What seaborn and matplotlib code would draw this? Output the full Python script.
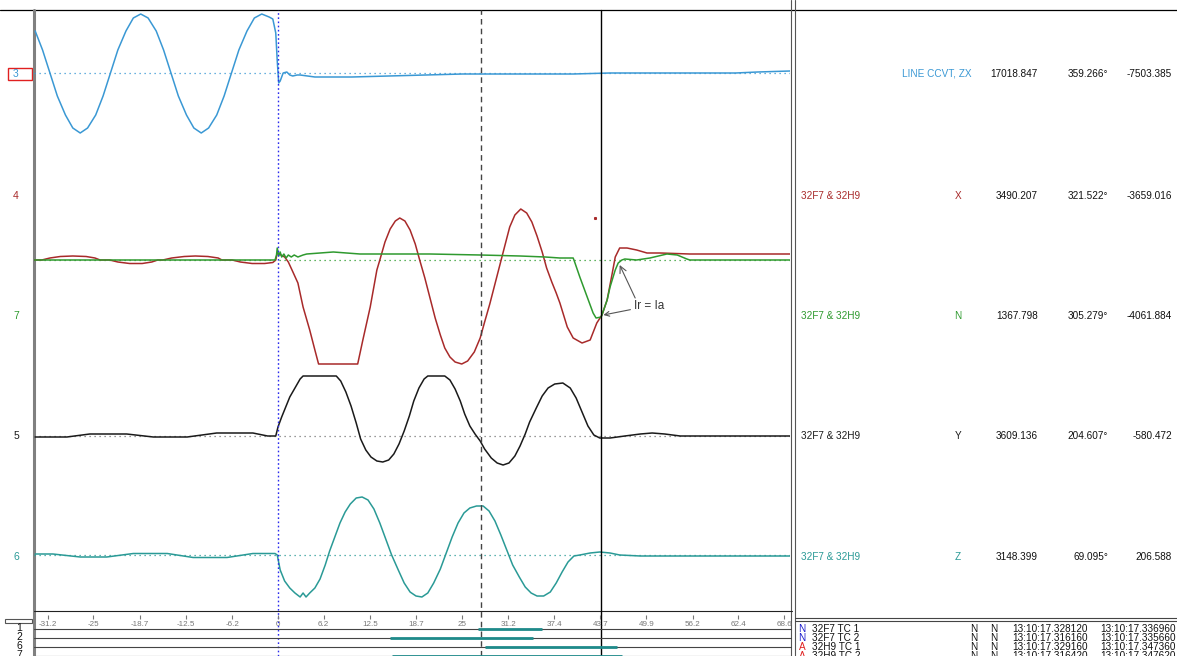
import numpy as np
import pandas as pd
import matplotlib
matplotlib.use("Agg")
import matplotlib.pyplot as plt
import seaborn as sns
from matplotlib.patches import Rectangle

sns.set_theme(style="white")
plt.rcParams['font.family'] = ['Liberation Sans', 'DejaVu Sans']

# ---------------- data (time in ms, values in display units) ----------------
ch3_t = [-32.9, -31.9, -30.9, -29.9, -28.8, -27.8, -26.8, -25.8, -24.7, -23.7, -22.7, -21.7,
         -20.6, -19.6, -18.6, -17.6, -16.5, -15.5, -14.5, -13.5, -12.4, -11.4, -10.4, -9.4,
         -8.3, -7.3, -6.3, -5.3, -4.2, -3.2, -2.2, -1.2, -0.7, -0.3, -0.1, 0.1, 0.3, 0.7, 1.2,
         1.6, 2.0, 2.6, 3.0, 5.0, 10.0, 15.0, 20.0, 25.0, 30.0, 40.0, 45.0, 55.0, 62.0, 65.0, 69.4]
ch3_v = [42, 23, 0, -23, -42, -55, -60, -55, -42, -23, 0, 23, 42, 55, 59, 55, 42, 23, 0, -23,
         -42, -55, -60, -55, -42, -23, 0, 23, 42, 55, 59, 56, 54, 40, 12, -10, -8, 0, 1, -2, -3,
         -2, -2, -4, -4, -3, -2, -1, -1, -1, 0, 0, 0, 1, 2]

ch4_t = [-33.1, -32.0, -30.9, -29.5, -27.8, -26.0, -24.8, -24.1, -22.8, -21.7, -20.1, -18.4,
         -17.1, -16.3, -15.6, -14.4, -12.7, -11.2, -9.5, -8.1, -7.6, -6.2, -5.1, -3.5, -1.8,
         -0.7, -0.3, -0.1, 0.4, 0.9, 1.4, 1.9, 2.7, 3.4, 4.3, 5.0, 5.5, 10.8, 11.5, 12.5, 13.4,
         13.8, 14.5, 15.2, 15.9, 16.5, 17.2, 17.9, 18.6, 19.2, 19.9, 20.6, 21.3, 22.0, 22.6,
         23.3, 24.0, 24.9, 25.7, 26.6, 27.4, 28.0, 28.7, 29.4, 30.1, 30.8, 31.4, 32.1, 32.9,
         33.7, 34.4, 35.1, 35.8, 36.4, 37.1, 37.7, 38.2, 39.2, 40.0, 41.2, 42.3, 43.2, 43.9,
         44.6, 45.3, 45.7, 46.3, 47.3, 48.6, 50.0, 51.8, 55.8, 69.4]
ch4_v = [0, 0, 2, 3.5, 4, 3.5, 2, 0, 0, -2, -3.5, -3.5, -2, 0, 0, 2, 3.5, 4, 3.5, 2, 0, 0, -2,
         -3.5, -3.5, -2.5, 0, 7, 5, 3, -2, -10, -23, -47, -70, -90, -104, -104, -80, -47, -10,
         0, 18, 31, 39, 42, 39, 30, 16, 0, -18, -38, -58, -75, -88, -97, -102, -104, -101, -92,
         -78, -62, -44, -24, -4, 16, 33, 45, 51, 47, 38, 24, 8, -8, -22, -33, -43, -67, -78,
         -83, -80, -63, -55, -40, -13, 3, 12, 12, 10, 7, 7, 6, 6]

ch7_t = [-33.1, -0.4, -0.2, -0.1, 0.1, 0.3, 0.5, 0.8, 1.1, 1.4, 1.8, 2.2, 2.7, 3.4, 3.9, 5.7,
         7.5, 9.3, 11.1, 13.8, 20.6, 27.4, 32.8, 36.2, 38.2, 40.0, 40.2, 40.9, 41.9, 42.7, 43.1,
         43.8, 44.6, 45.0, 45.7, 46.1, 46.6, 47.0, 48.6, 50.4, 52.7, 54.1, 55.4, 55.8, 69.4]
ch7_v = [0, 0, 5, 12, 4, 8, 3, 6, 2, 5, 3, 5, 3, 5, 6, 7, 8, 7, 6, 6, 6, 5, 4, 3, 2, 2, -2,
         -17, -37, -53, -58, -57, -40, -27, -10, -3, 0, 1, 0, 2, 6, 5, 1, 0, 0]

ch5_t = [-32.9, -28.6, -25.5, -20.5, -16.9, -12.3, -8.3, -3.4, -1.4, -0.3, 0.0, 0.5, 1.6, 2.3,
         3.0, 3.4, 7.9, 8.5, 9.2, 9.9, 10.6, 11.2, 11.9, 12.6, 13.4, 14.2, 15.0, 15.7, 16.4,
         17.1, 17.8, 18.4, 19.1, 19.8, 20.3, 22.6, 23.3, 24.0, 24.7, 25.3, 26.0, 26.7, 27.4,
         28.0, 28.9, 29.7, 30.5, 31.3, 32.1, 32.8, 33.5, 34.1, 35.0, 35.8, 36.6, 37.5, 38.6,
         39.6, 40.4, 41.2, 42.0, 42.8, 43.6, 45.0, 47.0, 49.1, 50.7, 52.4, 54.5, 69.4]
ch5_v = [-1, -1, 2, 2, -1, -1, 3, 3, 0, 0, 9, 19, 39, 48, 57, 60, 60, 55, 44, 30, 13, -3, -14,
         -21, -25, -26, -24, -18, -8, 5, 20, 35, 48, 57, 60, 60, 56, 47, 35, 22, 10, 2, -5, -13,
         -22, -27, -29, -27, -20, -10, 2, 14, 28, 40, 48, 52, 53, 48, 38, 24, 10, 1, -2, -2, 0,
         2, 3, 2, 0, 0]

ch6_t = [-32.9, -30.5, -26.8, -23.2, -19.6, -15.0, -11.5, -6.9, -3.4, -0.4, -0.1, 0.3, 0.9,
         1.6, 2.3, 3.0, 3.4, 3.8, 4.3, 5.0, 5.7, 6.4, 7.0, 7.7, 8.4, 9.1, 9.8, 10.6, 11.4, 12.2,
         13.0, 13.8, 14.6, 15.4, 16.3, 17.1, 17.9, 18.7, 19.5, 20.3, 21.1, 22.0, 22.8, 23.6,
         24.4, 25.2, 26.0, 26.9, 27.8, 28.6, 29.4, 30.2, 31.0, 31.8, 32.7, 33.5, 34.3, 35.1,
         36.0, 36.9, 37.7, 38.5, 39.3, 40.1, 40.9, 42.3, 43.6, 45.0, 46.3, 49.1, 69.4]
ch6_v = [1, 1, -2, -2, 1.5, 1.5, -2.5, -2.5, 1.5, 1.5, 0, -15, -26, -33, -38, -42, -38, -42,
         -38, -33, -24, -10, 4, 18, 32, 43, 51, 57, 58, 55, 46, 32, 16, 0, -15, -28, -37, -41,
         -42, -38, -28, -14, 2, 18, 32, 42, 47, 49, 49, 44, 34, 20, 5, -10, -22, -32, -38, -41,
         -41, -37, -28, -17, -7, -1, 0, 2, 3, 2, 0, -1, -1]

channel_ids = ['3', '4', '7', '5', '6']
channel_names = ['LINE CCVT, ZX', '32F7 & 32H9', '32F7 & 32H9', '32F7 & 32H9', '32F7 & 32H9']
channel_phase = ['', 'X', 'N', 'Y', 'Z']
channel_mag = ['17018.847', '3490.207', '1367.798', '3609.136', '3148.399']
channel_ang = ['359.266°', '321.522°', '305.279°', '204.607°', '69.095°']
channel_val = ['-7503.385', '-3659.016', '-4061.884', '-580.472', '206.588']

tick_vals = [-31.2, -25, -18.7, -12.5, -6.2, 0, 6.2, 12.5, 18.7, 25, 31.2, 37.4, 43.7, 49.9,
             56.2, 62.4, 68.6]
tick_labels = ['-31.2', '-25', '-18.7', '-12.5', '-6.2', '0', '6.2', '12.5', '18.7', '25',
               '31.2', '37.4', '43.7', '49.9', '56.2', '62.4', '68.6']

cursor_times = [0.0, 27.5, 43.8]

event_rows = ['1', '2', '6', '7']
event_start = [27.1, 15.2, 28.0, 15.4]
event_end = [35.8, 34.6, 45.9, 46.6]

tc_flag = ['N', 'N', 'A', 'A']
tc_name = ['32F7 TC 1', '32F7 TC 2', '32H9 TC 1', '32H9 TC 2']
tc_s1 = ['N', 'N', 'N', 'N']
tc_s2 = ['N', 'N', 'N', 'N']
tc_start = ['13:10:17.328120', '13:10:17.316160', '13:10:17.329160', '13:10:17.316420']
tc_end = ['13:10:17.336960', '13:10:17.335660', '13:10:17.347360', '13:10:17.347620']

# ---------------- layout / styles ----------------
W, H = 1177, 656
BLUE = '#3a98d4'
RED = '#a82a2a'
GREEN = '#2f9a2f'
BLACK = '#1a1a1a'
TEAL = '#2a9a96'
T0, T1 = -33.06, 69.38

fig = plt.figure(figsize=(W / 100, H / 100), dpi=100)
fig.patch.set_facecolor('white')


def frect(x0, y0, x1, y1):
    return [x0 / W, 1 - y1 / H, (x1 - x0) / W, (y1 - y0) / H]


ov = fig.add_axes([0, 0, 1, 1])
ov.set_xlim(0, W)
ov.set_ylim(H, 0)
ov.axis('off')

ax = fig.add_axes(frect(34, 10, 790, 611))
ax.patch.set_alpha(0)

traces = [
    (ch3_t, ch3_v, 73, BLUE, BLUE),
    (ch4_t, ch4_v, 260, RED, None),
    (ch7_t, ch7_v, 260, GREEN, GREEN),
    (ch5_t, ch5_v, 436, BLACK, '#777777'),
    (ch6_t, ch6_v, 555, TEAL, TEAL),
]
for t, v, base, col, dcol in traces:
    if dcol is not None:
        ax.axhline(base, color=dcol, lw=0.9, ls=(0, (1, 3)), zorder=1)
for t, v, base, col, dcol in traces:
    df = pd.DataFrame({'t': t, 'y': base - np.asarray(v, dtype=float)})
    sns.lineplot(data=df, x='t', y='y', ax=ax, color=col, lw=1.1, estimator=None,
                 sort=False, legend=False, zorder=3)

ax.plot([43.0], [218], marker='s', ms=1.2, color=RED, lw=0)

ax.set_xlim(T0, T1)
ax.set_ylim(611, 10)
ax.axis('off')

ext = -(656 - 611) / (611 - 10)
ax.axvline(cursor_times[0], ymin=ext, ymax=1, clip_on=False, color='#2a2aee',
           lw=1.0, ls=(0, (1.2, 1.8)), zorder=4)
ax.axvline(cursor_times[1], ymin=ext, ymax=1, clip_on=False, color='#444444',
           lw=1.0, ls=(0, (4, 3)), zorder=4)
ax.axvline(cursor_times[2], ymin=ext, ymax=1, clip_on=False, color='black',
           lw=1.0, zorder=4)

ap = dict(arrowstyle='->', color='#555555', lw=0.8, shrinkA=0, shrinkB=0)
ax.annotate('Ir = Ia', xy=(44.1, 315), xytext=(48.2, 306), color='#333333',
            fontsize=8.5, va='center', ha='left', arrowprops=ap)
ax.annotate('', xy=(46.3, 265), xytext=(48.4, 298), arrowprops=ap)

# tick strip
axT = fig.add_axes(frect(34, 611, 790, 619))
axT.set_xlim(T0, T1)
axT.set_xticks(tick_vals)
axT.set_xticklabels(tick_labels)
axT.set_yticks([])
axT.tick_params(axis='x', direction='in', length=3, width=0.8, color='#777777',
                labelcolor='#777777', labelsize=5.8, pad=1.5, bottom=True)
for s in axT.spines.values():
    s.set_visible(False)
axT.patch.set_alpha(0)

# event rows
axE = fig.add_axes(frect(34, 624, 792, 656))
axE.set_xlim(T0, T0 + (792 - 34) / (790 - 34) * (T1 - T0))
axE.set_ylim(656.5, 624)
axE.axis('off')
row_y = [629, 638, 647, 656]
for y in row_y:
    axE.axhline(y, color='#444444', lw=0.8)
axE.hlines(row_y, event_start, event_end, color='#1e8a8a', lw=2.0, zorder=3)

# frame lines
ov.plot([0, W], [10, 10], color='black', lw=0.9)
ov.plot([34, 34], [10, H], color='#808080', lw=2.2)
ov.plot([791, 791], [0, H], color='#555555', lw=0.8)
ov.plot([795, 795], [0, H], color='#555555', lw=0.8)
ov.plot([34, 792], [611, 611], color='#222222', lw=0.8)
ov.plot([795, W], [618, 618], color='#444444', lw=0.8)
ov.plot([795, W], [621, 621], color='#444444', lw=0.8)
ov.add_patch(Rectangle((5, 619), 27, 4, fill=False, ec='#555555', lw=0.8))

# channel labels
label_y = [74, 196, 316, 436, 557]
label_col = [BLUE, RED, GREEN, BLACK, TEAL]
txt_col = [BLUE, RED, GREEN, BLACK, TEAL]
ov.add_patch(Rectangle((8, 68), 24, 12, fill=False, ec='#e02020', lw=1.0))
for cid, y, c in zip(channel_ids, label_y, label_col):
    ov.text(16, y, cid, color=c, fontsize=7.5, ha='center', va='center')

fs = 7.2
for i, y in enumerate(label_y):
    if i == 0:
        ov.text(972, y, channel_names[i], color=txt_col[i], fontsize=fs, ha='right', va='center')
    else:
        ov.text(801, y, channel_names[i], color=txt_col[i], fontsize=fs, ha='left', va='center')
        ov.text(958, y, channel_phase[i], color=txt_col[i], fontsize=fs, ha='center', va='center')
    ov.text(1038, y, channel_mag[i], color='#111111', fontsize=fs, ha='right', va='center')
    ov.text(1108, y, channel_ang[i], color='#111111', fontsize=fs, ha='right', va='center')
    ov.text(1172, y, channel_val[i], color='#111111', fontsize=fs, ha='right', va='center')

for lab, y in zip(event_rows, row_y):
    ov.text(19, y - 1, lab, color='#111111', fontsize=7.5, ha='center', va='center')

for i, y in enumerate(row_y):
    fc = '#1a1acc' if tc_flag[i] == 'N' else '#e02020'
    ov.text(802, y, tc_flag[i], color=fc, fontsize=fs, ha='center', va='center')
    ov.text(812, y, tc_name[i], color='#111111', fontsize=fs, ha='left', va='center')
    ov.text(974, y, tc_s1[i], color='#111111', fontsize=fs, ha='center', va='center')
    ov.text(994, y, tc_s2[i], color='#111111', fontsize=fs, ha='center', va='center')
    ov.text(1012, y, tc_start[i], color='#111111', fontsize=fs, ha='left', va='center')
    ov.text(1100, y, tc_end[i], color='#111111', fontsize=fs, ha='left', va='center')

fig.savefig('out.png', dpi=100, facecolor='white')
